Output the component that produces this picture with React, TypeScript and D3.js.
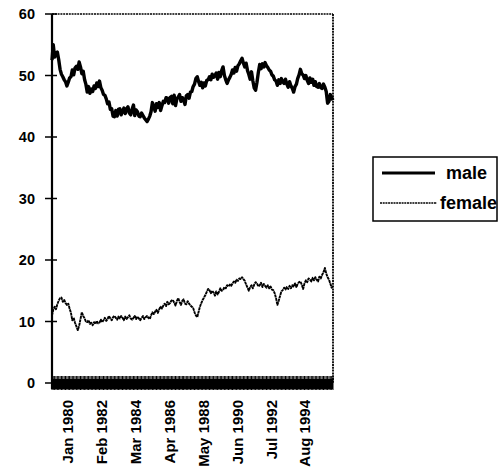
import React from "react";
import * as d3 from "d3";

const startMonth = "Feb 1979";
const maleValues = [
  52.5, 55.0, 53.0, 53.5, 53.8, 52.6, 51.0, 50.2, 49.8, 49.3,
  49.0, 48.3, 48.9, 49.6, 49.8, 50.9, 50.1, 51.2, 51.5, 51.0,
  52.2, 51.4, 50.3, 50.7, 49.3, 48.6, 47.3, 48.2, 47.1, 47.8,
  47.4, 48.3, 47.9, 48.8, 48.2, 49.1, 48.0, 47.6, 46.9, 46.8,
  46.2, 45.4, 45.7, 44.5, 44.6, 43.4, 43.3, 44.3, 43.4, 44.5,
  44.6, 43.6, 44.2, 44.7, 43.8, 44.6, 44.9, 43.9, 43.6, 44.5,
  45.2, 43.5, 44.4, 44.1, 43.4, 43.3, 43.9, 43.5, 43.1, 42.8,
  42.5, 42.9, 43.4, 44.1, 45.6, 44.9, 44.2, 45.4, 44.8, 45.6,
  44.3, 45.1, 45.8, 45.6, 46.4, 46.3, 45.5, 46.4, 46.6, 45.4,
  46.8, 45.1, 46.2, 46.5, 46.9, 45.8, 46.4, 46.0, 45.3, 46.7,
  46.9, 46.3, 47.3, 47.4, 48.2, 48.6, 49.5, 49.8, 49.0, 48.4,
  48.9, 48.0, 48.8, 48.3, 49.2, 49.3, 49.8, 49.3, 50.2, 49.7,
  50.0, 50.4, 49.4, 50.5, 49.8, 50.8, 51.4, 50.0, 49.3, 48.7,
  49.3, 49.7, 50.2, 50.9, 50.4, 51.3, 50.7, 51.6, 51.9, 52.4,
  52.8, 52.0, 51.4, 52.0, 50.8, 50.2, 49.4, 50.6, 49.1, 48.0,
  47.6, 48.9, 50.5, 51.8, 51.1, 51.9, 51.4, 52.1, 51.6, 51.3,
  50.9, 50.7, 50.1, 49.9, 49.3, 49.1, 48.4, 49.3, 48.7, 49.5,
  49.0, 48.7, 49.4, 48.6, 48.1, 49.0, 48.3, 47.9, 47.3, 48.2,
  48.6, 49.5, 50.1, 51.0, 50.3, 50.1, 49.5, 50.0, 49.2, 48.7,
  49.6, 48.9, 49.4, 48.4, 49.0, 48.2, 48.1, 48.7, 48.0, 47.9,
  48.6, 48.1, 47.4, 45.5, 45.8, 46.9, 46.4, 46.0,
];
const femaleValues = [
  11.0, 11.9, 12.4, 12.0, 12.8, 13.4, 13.8, 13.9, 13.2, 13.5,
  13.0, 12.7, 12.9, 12.1, 11.4, 10.2, 10.6, 9.8, 9.2, 8.6,
  9.3, 10.4, 11.5, 10.9, 10.5, 10.0, 9.9, 10.2, 9.6, 9.8,
  9.4, 9.9, 9.6, 10.1, 9.7, 9.8, 10.3, 9.9, 10.2, 10.6,
  10.1, 10.4, 10.9, 10.5, 10.2, 10.7, 10.9, 10.6, 10.3, 10.8,
  10.5, 10.9, 10.6, 10.2, 10.8, 10.4, 10.7, 11.0, 10.5, 10.3,
  10.6, 10.9, 10.4, 10.8, 10.5, 10.2, 10.6, 10.9, 10.4, 10.7,
  10.9, 10.6, 10.4, 11.0, 11.5, 11.2, 11.6, 11.9, 11.4, 12.0,
  12.4, 12.1, 12.6, 12.9, 12.5, 13.2, 12.8, 13.0, 13.4, 13.5,
  13.1, 12.6, 13.3, 13.8, 13.2, 12.7, 13.4, 13.6, 12.9, 12.8,
  13.3, 12.9, 12.6, 12.4, 12.2, 11.5, 11.0, 10.7, 11.6, 12.4,
  13.0, 13.5, 13.9, 14.3, 14.8, 15.3, 15.1, 14.6, 15.0, 14.7,
  14.2, 14.9, 14.4, 14.8, 15.4, 15.0, 15.1, 15.6, 15.4, 15.9,
  15.7, 16.0, 15.8, 16.2, 16.5, 16.3, 16.8, 16.6, 17.0, 16.9,
  17.2, 16.9, 16.6, 16.0, 15.5, 15.0, 15.6, 15.9, 15.4, 16.0,
  16.4, 16.2, 15.7, 15.9, 16.3, 15.6, 16.1, 15.8, 15.5, 15.9,
  15.4, 15.7, 15.2, 15.1, 14.6, 13.8, 12.7, 13.4, 14.2, 14.9,
  15.1, 15.5, 15.2, 15.6, 15.3, 15.8, 15.4, 15.9, 15.7, 16.2,
  15.6, 16.1, 16.4, 16.5, 16.0, 15.3, 16.2, 16.7, 16.4, 17.0,
  16.8, 16.5, 17.1, 16.7, 17.2, 16.8, 16.5, 17.3, 17.0, 17.6,
  18.0, 18.7, 17.8, 17.2, 16.8, 16.2, 15.5, 15.8,
];
const xTickLabels = ["Jan 1980", "Feb 1982", "Mar 1984", "Apr 1986", "May 1988", "Jun 1990", "Jul 1992", "Aug 1994"];
const yTicks = [0, 10, 20, 30, 40, 50, 60];
const seriesNames = ["male", "female"];

const W = 501, H = 470;
const L = 52, R = 333, T = 14, B = 383;
const FONT = "'Liberation Sans', Arial, Helvetica, sans-serif";

export default function App() {
  const parse = d3.timeParse("%b %Y");
  const start = parse(startMonth) as Date;
  const dates = maleValues.map((_, i) => d3.timeMonth.offset(start, i));
  const x = d3.scaleTime().domain([dates[0], dates[dates.length - 1]]).range([L, R]);
  const y = d3.scaleLinear().domain([0, 60]).range([B, T]);

  const line = d3.line<number>().x((_, i) => x(dates[i])).y((d) => y(d));

  const styles = [
    { width: 3.4, dash: undefined as string | undefined },
    { width: 1.9, dash: "3,0.5" },
  ];

  return (
    <svg width={W} height={H} style={{ position: "absolute", left: 0, top: 0, background: "#fff" }}>
      {/* frame */}
      <line x1={L} x2={R} y1={T} y2={T} stroke="#000" strokeWidth={1.5} strokeDasharray="2,0.8" />
      <line x1={R} x2={R} y1={T} y2={B} stroke="#000" strokeWidth={1.8} strokeDasharray="2,0.8" />
      <line x1={L} x2={L} y1={T} y2={B + 6} stroke="#000" strokeWidth={2.2} />
      {/* y ticks */}
      {yTicks.map((t) => (
        <g key={t}>
          <line x1={L - 7} x2={L + 5} y1={y(t)} y2={y(t)} stroke="#000" strokeWidth={1.5} />
          <text x={L - 17} y={y(t)} dy="0.36em" textAnchor="end" fontFamily={FONT} fontSize={14.5} fontWeight="bold" fill="#000">
            {t}
          </text>
        </g>
      ))}
      {/* series */}
      <path d={line(femaleValues) || ""} fill="none" stroke="#000" strokeWidth={styles[1].width} strokeDasharray={styles[1].dash} strokeLinejoin="round" />
      <path d={line(maleValues) || ""} fill="none" stroke="#000" strokeWidth={styles[0].width} strokeLinejoin="round" />
      {/* dense category ticks forming the bottom band */}
      <line x1={L} x2={R} y1={B + 1} y2={B + 1} stroke="#000" strokeWidth={10} />
      {dates.map((d, i) => (
        <line key={i} x1={x(d)} x2={x(d)} y1={B - 7} y2={B + 7} stroke="#000" strokeWidth={1} />
      ))}
      {/* x labels */}
      {xTickLabels.map((lab) => {
        const px = x(parse(lab) as Date);
        return (
          <text key={lab} transform={`translate(${px + 6},400) rotate(-90)`} textAnchor="end" fontFamily={FONT} fontSize={15} fontWeight="bold" fill="#000">
            {lab}
          </text>
        );
      })}
      {/* legend */}
      <rect x={373} y={157} width={124} height={64} fill="none" stroke="#000" strokeWidth={1.5} />
      {seriesNames.map((name, i) => {
        const ly = 173 + i * 30;
        return (
          <g key={name}>
            <line x1={i === 0 ? 382 : 380} x2={i === 0 ? 435 : 437} y1={ly} y2={ly} stroke="#000" strokeWidth={i === 0 ? 3 : 1.6} strokeDasharray={i === 0 ? undefined : "2,0.7"} />
            <text x={i === 0 ? 446 : 440} y={ly + 6} fontFamily={FONT} fontSize={18} fontWeight="bold" fill="#000">
              {name}
            </text>
          </g>
        );
      })}
    </svg>
  );
}
